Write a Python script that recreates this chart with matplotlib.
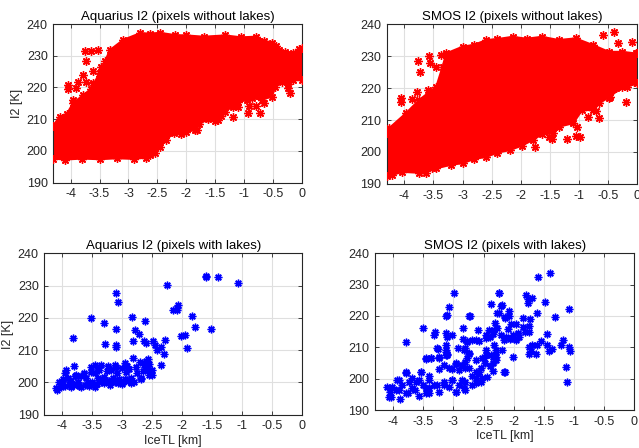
import matplotlib
matplotlib.use("Agg")
import matplotlib.pyplot as plt

plt.rcParams["font.family"] = ["Liberation Sans", "DejaVu Sans"]

# ---- Aquarius, pixels without lakes: outline of the saturated cloud + stray points
aq_hull_x = [-4.30, -4.10, -3.80, -3.50, -3.20, -2.90, -2.70, -2.62, -2.55, -2.45,
             -2.35, -2.22, -2.10, -2.00, -1.85, -1.78, -1.62, -1.50, -1.40, -1.33,
             -1.20, -1.10, -0.95, -0.87, -0.70, -0.52, -0.46, -0.35, -0.25, -0.15, 0.00,
             0.00, -0.06, -0.15, -0.29, -0.40, -0.45, -0.52, -0.65, -0.80, -1.05,
             -1.33, -1.70, -2.00, -2.19, -2.45, -2.63, -2.80, -3.09, -3.32, -3.40,
             -3.50, -3.65, -3.79, -3.96, -4.07, -4.19, -4.30]
aq_hull_y = [197.6, 197.3, 197.6, 197.4, 197.7, 197.5, 197.9, 198.8, 199.5, 201.3,
             203.5, 205.6, 205.2, 206.0, 206.6, 208.5, 210.0, 209.5, 211.0, 212.4,
             214.0, 215.5, 216.0, 216.6, 216.2, 217.1, 220.3, 221.8, 221.0, 222.5, 222.3,
             232.3, 232.0, 231.0, 231.3, 231.8, 233.0, 233.9, 234.8, 236.0, 235.8,
             236.4, 236.0, 236.4, 236.5, 237.2, 237.0, 237.1, 235.0, 231.8, 228.5,
             224.5, 219.5, 217.5, 215.0, 211.5, 210.8, 208.0]
aq_out_x = [-3.76, -3.64, -3.74, -3.61, -3.48, -3.79, -3.87, -4.04, -4.04, -3.90,
            -3.73, -3.61, -3.50, -3.96, -4.10, -4.19, -3.35, -3.21, -3.53,
            -1.20, -0.94, -0.73, -0.91, -0.80, -0.65, -1.10, -0.24, -0.20, -0.12,
            -1.46, -1.62, -1.82]
aq_out_y = [231.6, 231.6, 228.4, 225.3, 226.6, 223.9, 221.8, 220.8, 219.5, 219.7,
            221.8, 221.5, 223.6, 216.1, 210.8, 206.6, 228.1, 229.2, 231.8,
            210.8, 211.9, 211.9, 214.3, 214.3, 215.2, 213.7, 219.9, 218.4, 226.9,
            209.8, 210.5, 206.6]

# ---- SMOS, pixels without lakes
sm_hull_x = [-4.30, -4.21, -4.03, -3.74, -3.63, -3.52, -3.45, -3.20, -3.00, -2.80,
             -2.59, -2.40, -2.19, -1.98, -1.79, -1.64, -1.45, -1.35, -1.10, -0.95,
             -0.76, -0.66, -0.47, -0.26, -0.18, 0.00,
             0.00, -0.03, -0.26, -0.49, -0.76, -1.06, -1.35, -1.64, -1.90, -2.14,
             -2.40, -2.59, -2.80, -3.00, -3.28, -3.34, -3.45, -3.74, -3.97, -4.26, -4.30]
sm_hull_y = [192.5, 192.8, 193.8, 193.5, 193.3, 195.0, 194.9, 196.0, 196.5, 197.8,
             198.5, 199.8, 200.6, 202.0, 203.8, 205.5, 205.8, 207.9, 209.0, 213.1,
             213.1, 215.2, 217.3, 220.4, 220.4, 221.5,
             230.8, 230.8, 231.3, 231.3, 233.4, 235.5, 235.0, 236.0, 235.4, 236.0,
             235.3, 235.0, 233.5, 232.9, 230.8, 226.7, 220.4, 216.3, 212.1, 207.4, 206.0]
sm_out_x = [-3.76, -3.73, -4.06, -4.06, -3.87, -3.78, -3.60, -3.49, -3.55, -3.46,
            -3.32, -3.58, -3.37, -3.97, -4.15, -4.21, -4.15,
            -0.59, -0.41, -0.34, -0.10, -0.06, -0.19, -0.23, -1.03, -1.06, -0.99,
            -1.20, -1.46, -0.85, -0.66, -0.71, -0.49, -0.37, -1.75, -1.52, -1.35]
sm_out_y = [228.5, 224.9, 216.8, 215.7, 216.5, 218.9, 219.4, 218.9, 227.7, 226.6,
            220.9, 230.0, 230.3, 211.0, 207.4, 203.8, 200.6,
            236.6, 237.4, 234.2, 234.4, 222.0, 215.7, 220.9, 207.9, 205.0, 204.6,
            204.0, 204.2, 211.0, 210.5, 212.8, 216.8, 220.0, 201.5, 204.8, 210.0]

# ---- Aquarius, pixels with lakes
aql_x = [-3.82, -3.52, -3.31, -3.11, -3.11, -3.07, -3.28, -3.11, -3.11, -2.84,
         -2.79, -2.72, -2.82, -2.62, -2.64, -2.61, -2.49, -2.46, -2.42, -2.36,
         -2.28, -2.31, -2.36, -2.25, -2.16, -2.08, -2.07, -2.08, -2.02, -1.95,
         -1.92, -1.84, -1.79, -1.61, -1.60, -1.41, -1.08, -1.53,
         -4.08, -4.02, -4.05, -3.96, -3.93, -3.90, -3.85, -3.81, -3.77, -3.74,
         -3.68, -3.63, -3.57, -3.52, -3.52, -3.46, -3.41, -3.35, -3.38, -3.30,
         -3.23, -3.18, -3.10, -3.08, -3.07, -2.99, -2.93, -2.88, -2.85, -2.82,
         -2.77, -2.69, -2.70, -2.63, -2.57, -2.55,
         -2.57, -2.55, -2.50, -2.50, -2.61, -2.69, -3.78, -3.95, -3.88, -3.80,
         -3.72, -3.62, -3.55, -3.50, -3.42, -3.35, -3.25, -3.20, -3.15, -3.12,
         -3.05, -3.00, -2.95, -2.90, -2.86, -2.80, -3.60, -3.68, -3.45, -3.30,
         -3.25, -3.18, -3.00, -2.92, -2.75, -2.65, -2.60, -2.95, -3.12, -3.45,
         -3.40, -4.00, -3.98, -4.10, -3.85]
aql_y = [213.7, 220.0, 218.3, 216.5, 227.6, 225.0, 211.8, 211.7, 210.9, 220.4,
         216.2, 215.0, 212.7, 218.9, 212.9, 212.2, 212.7, 211.7, 210.0, 210.9,
         213.2, 208.8, 205.5, 230.2, 222.4, 222.4, 224.0, 223.2, 214.5, 214.7,
         210.6, 220.5, 217.3, 232.8, 233.1, 232.8, 230.9, 216.5,
         197.6, 198.7, 200.2, 202.8, 203.8, 201.3, 198.7, 205.1, 202.3, 200.2,
         198.7, 202.8, 200.2, 204.9, 203.3, 198.7, 201.3, 205.4, 203.8, 199.7,
         205.1, 200.7, 204.9, 202.8, 199.7, 200.2, 203.3, 204.3, 199.7, 207.5,
         204.9, 201.3, 206.4, 205.4, 203.8, 202.3,
         207.3, 205.8, 203.7, 202.2, 204.7, 201.1, 202.1, 199.0, 199.5, 199.2,
         199.0, 199.3, 199.0, 200.0, 199.5, 200.2, 200.5, 199.3, 201.5, 200.0,
         201.0, 199.5, 201.0, 200.5, 201.5, 200.0, 201.5, 202.0, 203.0, 201.8,
         203.5, 204.0, 204.5, 205.0, 203.0, 203.5, 206.5, 206.0, 205.5, 205.5,
         204.5, 199.5, 201.0, 198.3, 200.5]

# ---- SMOS, pixels with lakes
sml_x = [-3.07, -3.12, -2.74, -2.38, -2.21, -2.25, -2.15, -3.50, -3.79, -3.30,
         -3.33, -3.13, -3.02, -3.10, -2.84, -2.60, -2.46, -2.40, -2.32, -3.13,
         -3.13, -3.10, -3.27, -2.93, -2.77, -2.69, -2.58, -2.80, -2.74, -3.46,
         -3.38, -3.24, -2.96, -2.80, -2.46, -2.38, -2.29, -2.35, -2.15, -3.79,
         -3.91, -3.68, -3.54, -3.57, -3.40, -3.24, -3.07, -2.90, -2.74, -2.63,
         -2.52, -2.69, -2.85, -3.02, -3.15, -3.32, -3.46, -3.63, -3.79, -3.96,
         -4.04, -4.10, -2.96, -2.83, -2.63, -3.40,
         -1.60, -1.40, -2.24, -1.79, -1.77, -1.77, -1.70, -1.48, -2.20, -2.08,
         -2.27, -2.08, -2.14, -1.84, -1.73, -1.62, -1.31, -1.08, -2.04, -1.97,
         -1.85, -1.74, -2.27, -1.82, -1.74, -1.93, -2.01, -2.12, -2.21, -2.06,
         -1.97, -1.91, -1.44, -1.19, -1.22, -1.55, -1.69, -1.61, -1.74, -1.72,
         -1.63, -1.74, -1.44, -1.42, -1.36, -1.08, -1.07, -1.13, -2.16, -2.01,
         -2.30, -2.30, -1.12, -2.99, -3.11, -2.72, -2.24, -3.25, -3.11, -3.02,
         -2.84, -2.41, -2.34, -2.10, -2.31, -2.33,
         -2.60, -2.55, -2.48, -2.45, -2.50, -2.40, -2.35, -2.55,
         -3.13, -3.13, -2.77, -2.63, -2.46, -2.82, -2.74, -2.77, -2.63, -2.52,
         -2.46, -2.35, -2.30, -2.19, -2.16, -2.05, -3.46, -3.38, -3.24, -3.16,
         -2.96, -2.85, -2.80, -3.79, -3.54, -3.93, -4.02, -4.05, -4.07, -3.91,
         -3.88, -3.76, -3.68, -3.62, -3.51, -3.40, -3.40, -3.27, -3.24, -3.15,
         -3.07, -3.02, -2.96, -2.90, -2.80, -2.80, -2.69, -2.63, -2.57, -3.57,
         -3.46, -3.74, -3.85]
sml_y = [223.0, 220.1, 220.0, 223.8, 223.2, 220.9, 219.6, 216.1, 211.8, 215.0,
         213.9, 214.5, 213.9, 213.4, 216.3, 215.6, 213.9, 213.4, 215.6, 210.7,
         209.1, 208.0, 209.9, 209.8, 211.9, 212.4, 211.9, 209.8, 208.1, 206.2,
         206.5, 206.8, 204.9, 205.4, 209.1, 207.5, 206.0, 204.9, 202.2, 202.0,
         199.6, 200.1, 202.2, 199.6, 200.7, 203.0, 203.3, 202.8, 203.3, 202.2,
         200.1, 200.7, 199.6, 199.6, 198.0, 198.0, 196.9, 196.5, 195.3, 196.5,
         194.2, 197.5, 195.8, 196.9, 198.6, 195.3,
         232.5, 233.6, 227.4, 226.7, 225.3, 224.0, 225.6, 224.5, 223.5, 221.7,
         221.1, 220.0, 219.3, 219.5, 219.1, 220.9, 219.6, 222.2, 217.4, 217.6,
         216.6, 216.8, 216.1, 215.0, 215.0, 214.5, 214.0, 213.4, 214.0, 212.6,
         212.4, 213.4, 214.2, 212.4, 210.8, 212.1, 210.6, 210.8, 210.1, 208.9,
         207.8, 207.8, 210.6, 208.9, 209.4, 210.1, 208.7, 203.8, 202.2, 207.0,
         207.0, 209.1, 198.9, 227.4, 220.4, 220.1, 227.3, 209.5, 207.6, 203.1,
         212.8, 215.5, 214.3, 215.8, 217.7, 210.8,
         201.5, 203.5, 205.0, 200.5, 206.5, 204.0, 202.5, 199.0,
         208.5, 207.4, 211.8, 212.3, 212.9, 209.1, 208.0, 206.5, 206.0, 206.5,
         207.5, 207.0, 208.6, 209.1, 212.3, 212.9, 206.5, 206.5, 206.5, 204.4,
         204.6, 204.4, 203.3, 201.7, 202.2, 199.6, 197.5, 195.8, 194.2, 196.4,
         193.6, 195.3, 196.9, 199.0, 198.0, 199.6, 196.9, 198.0, 195.8, 199.0,
         197.5, 199.6, 195.8, 198.0, 196.4, 199.0, 198.0, 200.1, 202.2, 194.6,
         195.3, 199.0, 198.0]

titles = ["Aquarius I2 (pixels without lakes)", "SMOS I2 (pixels without lakes)",
          "Aquarius I2 (pixels with lakes)", "SMOS I2 (pixels with lakes)"]
xticks = [-4, -3.5, -3, -2.5, -2, -1.5, -1, -0.5, 0]
yticks = [190, 200, 210, 220, 230, 240]

DARK = "#262626"
STAR = (8, 2, 0)

fig = plt.figure(figsize=(6.39, 4.48), dpi=100)
rects = [[0.0834, 0.5922, 0.3892, 0.3542],
         [0.6052, 0.5893, 0.3923, 0.3571],
         [0.0693, 0.0743, 0.4038, 0.3603],
         [0.5869, 0.0848, 0.4058, 0.3498]]
axes = [fig.add_axes(r) for r in rects]


def style(ax, title):
    ax.set_xlim(-4.3, 0)
    ax.set_ylim(190, 240)
    ax.set_xticks(xticks)
    ax.set_xticklabels([f"{t:g}" for t in xticks])
    ax.set_yticks(yticks)
    ax.grid(True, color="#dfdfdf", lw=0.8)
    ax.set_axisbelow(True)
    for s in ax.spines.values():
        s.set_color(DARK)
        s.set_linewidth(0.8)
    ax.tick_params(direction="in", length=3, width=0.6, colors=DARK, labelsize=9,
                   top=True, right=True, pad=4)
    ax.set_title(title, fontsize=9.5, color="black", pad=3)


# top row: saturated clouds drawn as filled outline plus stray asterisks
for ax, hx, hy, ox, oy in [(axes[0], aq_hull_x, aq_hull_y, aq_out_x, aq_out_y),
                           (axes[1], sm_hull_x, sm_hull_y, sm_out_x, sm_out_y)]:
    ax.fill(hx, hy, color="red", lw=1.5, zorder=2)
    ax.plot(hx, hy, ls="none", marker=STAR, ms=6, mew=1, color="red", zorder=3)
    ax.plot(ox, oy, ls="none", marker=STAR, ms=6, mew=1, color="red", zorder=3)

axes[2].plot(aql_x, aql_y, ls="none", marker=STAR, ms=5.5, mew=1, color="blue")
axes[3].plot(sml_x, sml_y, ls="none", marker=STAR, ms=5.5, mew=1, color="blue")

for ax, t in zip(axes, titles):
    style(ax, t)

axes[0].set_ylabel("I2 [K]", fontsize=9, color=DARK, labelpad=3)
axes[2].set_ylabel("I2 [K]", fontsize=9, color=DARK, labelpad=3)
axes[2].set_xlabel("IceTL [km]", fontsize=9, color=DARK, labelpad=2)
axes[3].set_xlabel("IceTL [km]", fontsize=9, color=DARK, labelpad=2)

fig.savefig("out.png", dpi=100, facecolor="white")
